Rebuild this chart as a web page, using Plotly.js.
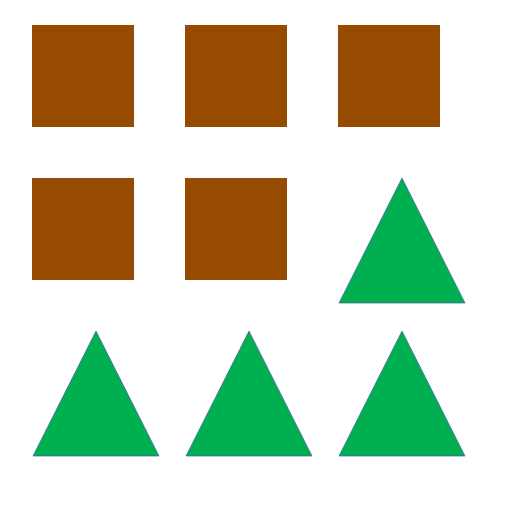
<!DOCTYPE html>
<html>
<head>
<meta charset="utf-8">
<script src="https://cdn.plot.ly/plotly-3.0.1.min.js"></script>
<style>
  html, body { margin: 0; padding: 0; background: #fff; }
  #chart { width: 512px; height: 512px; }
</style>
</head>
<body>
<div id="chart"></div>
<script>
// pictograph: one icon per unit, filled row by row in a 3x3 grid
const categories = ['squares', 'triangles'];
const counts = [5, 4];
const shapes = ['square', 'triangle'];
const colors = ['#964B00', '#00B050'];
const edgeColors = ['#964B00', '#4a5aa8'];

const COLS = 3;
const CELL = 153;          // grid pitch, px
const ORIGIN = [32, 25];   // top-left of first cell
const SQ = 102;            // square side
const TRI_W = 126, TRI_H = 125, TRI_DX = 1;

function outline(kind, col, row) {
  const x0 = ORIGIN[0] + col * CELL;
  const y0 = ORIGIN[1] + row * CELL;
  if (kind === 'square') {
    return { x: [x0, x0 + SQ, x0 + SQ, x0, x0], y: [y0, y0, y0 + SQ, y0 + SQ, y0] };
  }
  const xl = x0 + TRI_DX;
  return { x: [xl, xl + TRI_W / 2, xl + TRI_W, xl], y: [y0 + TRI_H, y0, y0 + TRI_H, y0 + TRI_H] };
}

const traces = [];
let slot = 0;
categories.forEach((cat, i) => {
  for (let k = 0; k < counts[i]; k++) {
    const p = outline(shapes[i], slot % COLS, Math.floor(slot / COLS));
    traces.push({
      type: 'scatter', mode: 'lines', fill: 'toself',
      x: p.x, y: p.y,
      fillcolor: colors[i],
      line: { color: edgeColors[i], width: shapes[i] === 'triangle' ? 0.7 : 0 },
      name: cat, showlegend: false, hoverinfo: 'name'
    });
    slot++;
  }
});

const layout = {
  width: 512, height: 512,
  margin: { l: 0, r: 0, t: 0, b: 0 },
  paper_bgcolor: '#fff', plot_bgcolor: '#fff',
  xaxis: { range: [0, 512], visible: false, fixedrange: true },
  yaxis: { range: [512, 0], visible: false, fixedrange: true },
  showlegend: false
};

Plotly.newPlot('chart', traces, layout, { displayModeBar: false, staticPlot: true });
</script>
</body>
</html>
